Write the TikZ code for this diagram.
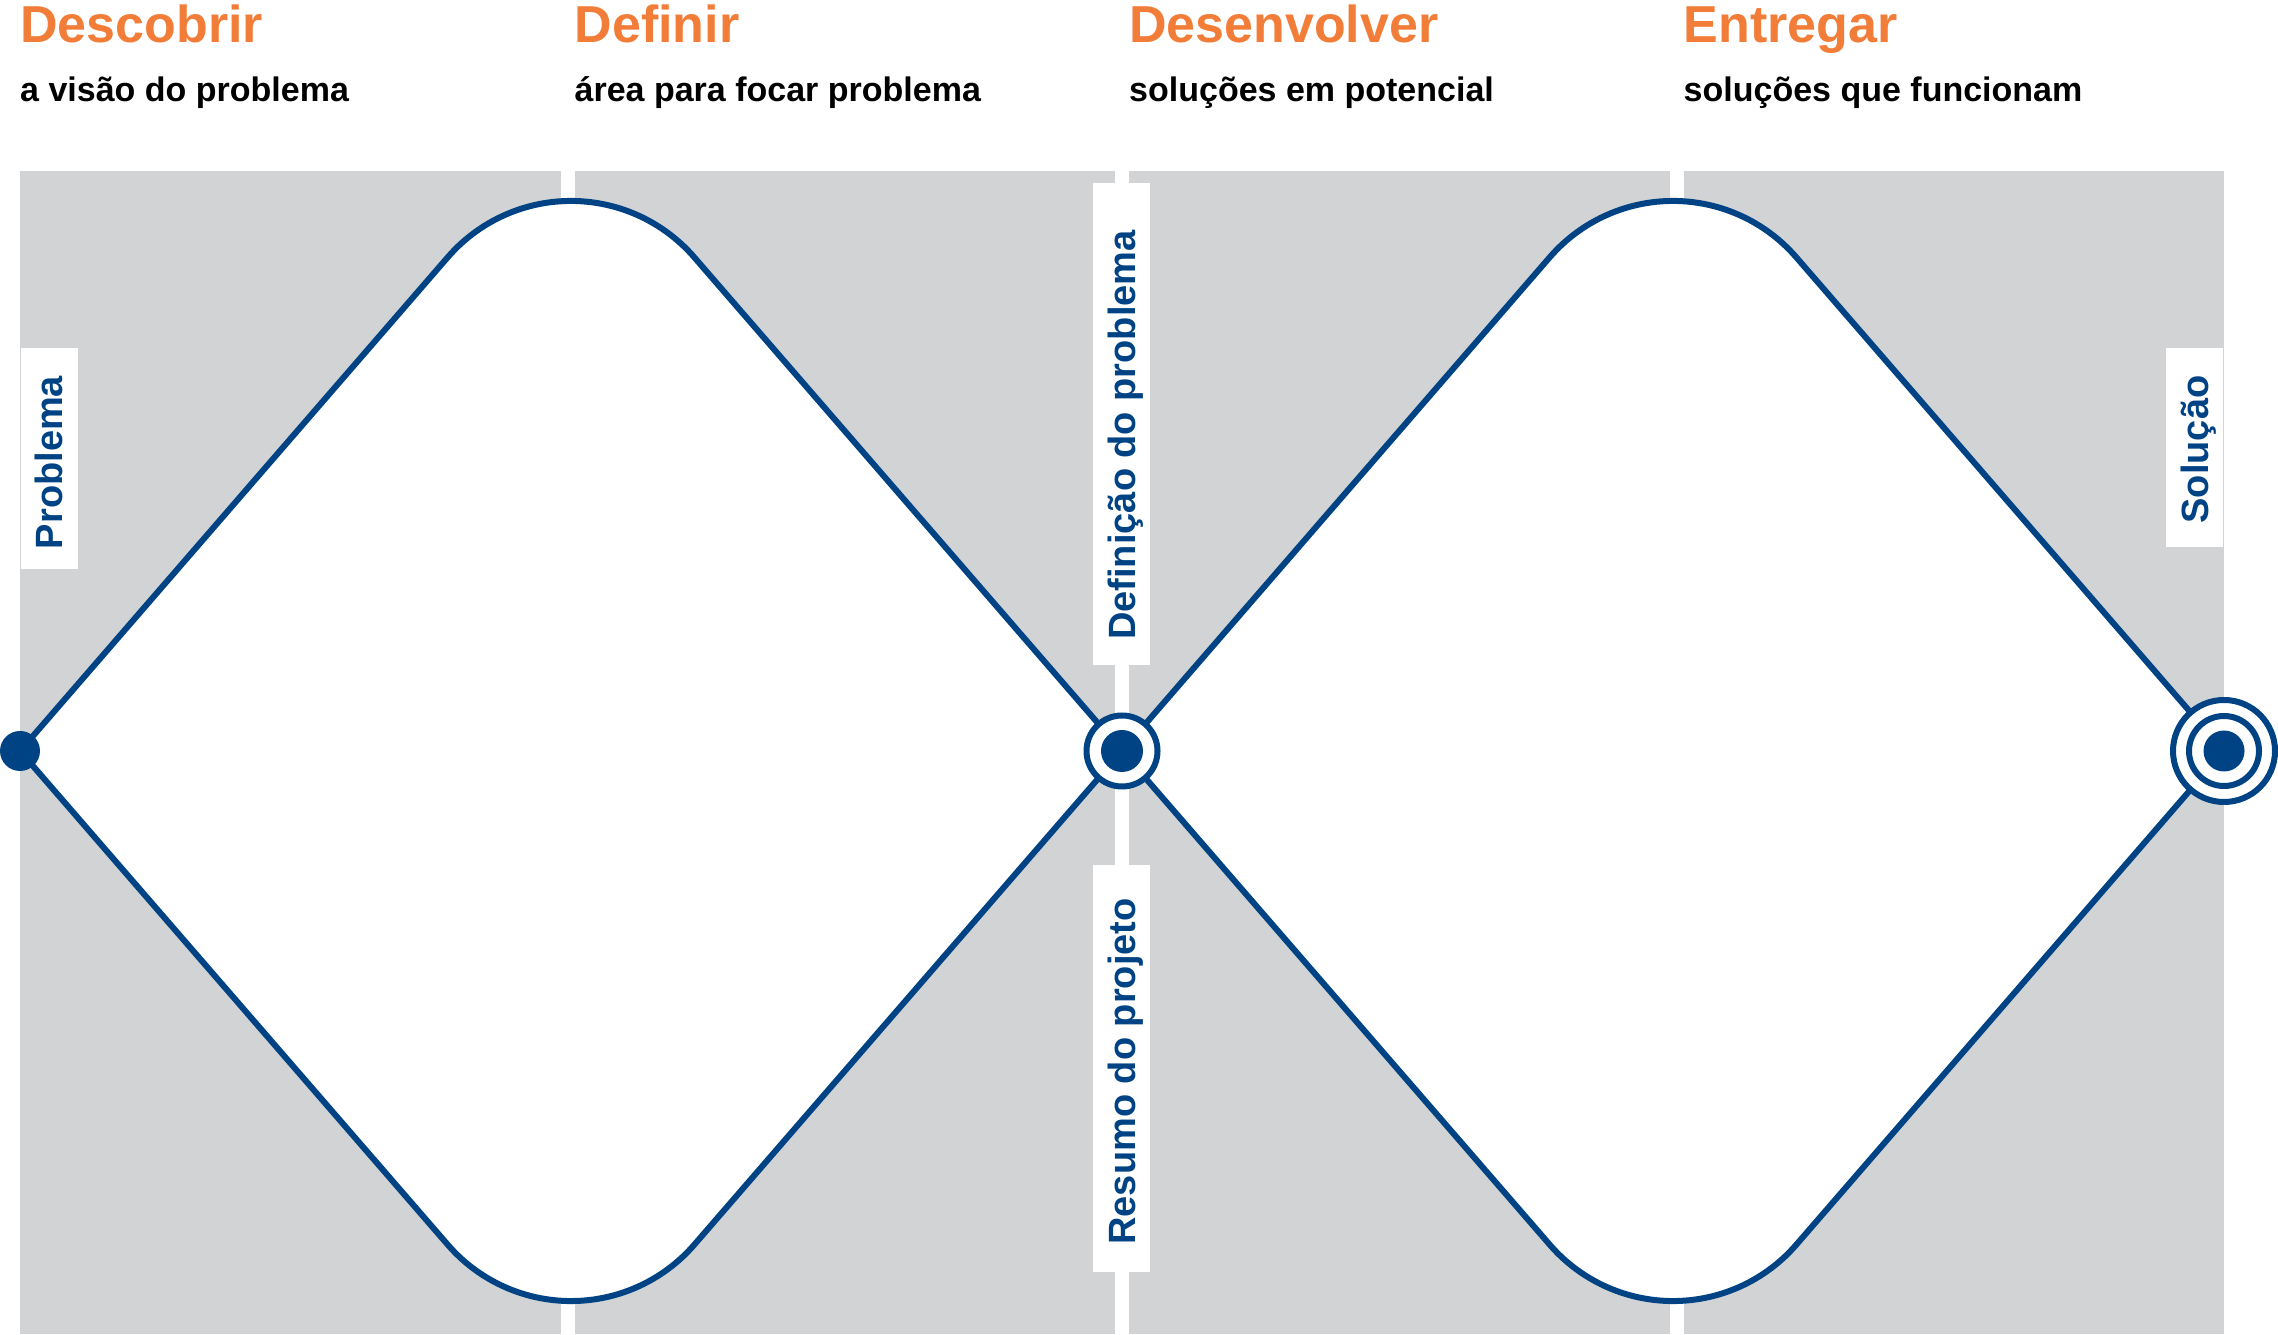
\documentclass[tikz,border=0pt]{standalone}
\usepackage{fontspec}
\setmainfont{Liberation Sans}
\definecolor{ddblue}{RGB}{0,67,132}
\definecolor{ddorange}{RGB}{242,125,56}
\definecolor{ddgray}{RGB}{209,211,212}

\begin{document}
\begin{tikzpicture}[x=1pt, y=1pt,
  panel/.style={fill=ddgray},
  title/.style={anchor=base west, inner sep=0pt, text=ddorange, font=\bfseries\fontsize{52}{52}\selectfont},
  sub/.style={anchor=base west, inner sep=0pt, font=\bfseries\fontsize{34}{34}\selectfont},
  tag/.style={fill=white, rotate=90, minimum height=57pt, inner sep=0pt, text=ddblue, text height=27pt, text depth=0pt, font=\bfseries\fontsize{38}{38}\selectfont},
  dline/.style={draw=ddblue, line width=6pt},
  dot/.style={circle, fill=ddblue, inner sep=0pt, outer sep=0pt},
  ring/.style={circle, draw=ddblue, fill=white, line width=6pt, inner sep=0pt}]
\fill[white] (0,0) rectangle (2278,1334);
\useasboundingbox (0,0) rectangle (2278,1334);

\fill[panel] (20,0) rectangle (560.5,1163);
\fill[panel] (574.5,0) rectangle (1115,1163);
\fill[panel] (1129,0) rectangle (1669.5,1163);
\fill[panel] (1683.5,0) rectangle (2224,1163);

\node[title] (t1) at (20,1291) {Descobrir};
\node[title] (t2) at (574.5,1291) {Definir};
\node[title] (t3) at (1129,1291) {Desenvolver};
\node[title] (t4) at (1683.5,1291) {Entregar};
\node[sub] (s1) at (20,1232) {a visão do problema};
\node[sub] (s2) at (574.5,1232) {área para focar problema};
\node[sub] (s3) at (1129,1232) {soluções em potencial};
\node[sub] (s4) at (1683.5,1232) {soluções que funcionam};

\draw[dline, fill=white] (20,583) -- (447.8,1076.8) arc[start angle=139.09, end angle=40.91, radius=163] -- (1122,583) -- (694.2,89.2) arc[start angle=319.09, end angle=220.91, radius=163] -- cycle;
\draw[dline, fill=white] (1122,583) -- (1549.8,1076.8) arc[start angle=139.09, end angle=40.91, radius=163] -- (2224,583) -- (1796.2,89.2) arc[start angle=319.09, end angle=220.91, radius=163] -- cycle;

\node[tag, minimum width=221pt] (problema) at (49,875.5) {Problema\hspace*{8pt}};
\node[tag, minimum width=482pt] (definicao) at (1121.5,910) {Definição do problema\hspace*{22pt}};
\node[tag, minimum width=407pt] (resumo) at (1121.5,265.5) {Resumo do projeto\hspace*{6pt}};
\node[tag, minimum width=199pt] (solucao) at (2194.5,886.5) {Solução\hspace*{4pt}};

\node[dot, minimum size=40pt] (start) at (20,583) {};
\node[ring, minimum size=71pt] (brief) at (1122,583) {};
\node[dot, minimum size=42pt] (brief dot) at (brief) {};
\node[ring, minimum size=102pt] (goal) at (2224,583) {};
\node[ring, minimum size=70pt] (goal ring) at (goal) {};
\node[dot, minimum size=41pt] (goal dot) at (goal) {};
\end{tikzpicture}
\end{document}
